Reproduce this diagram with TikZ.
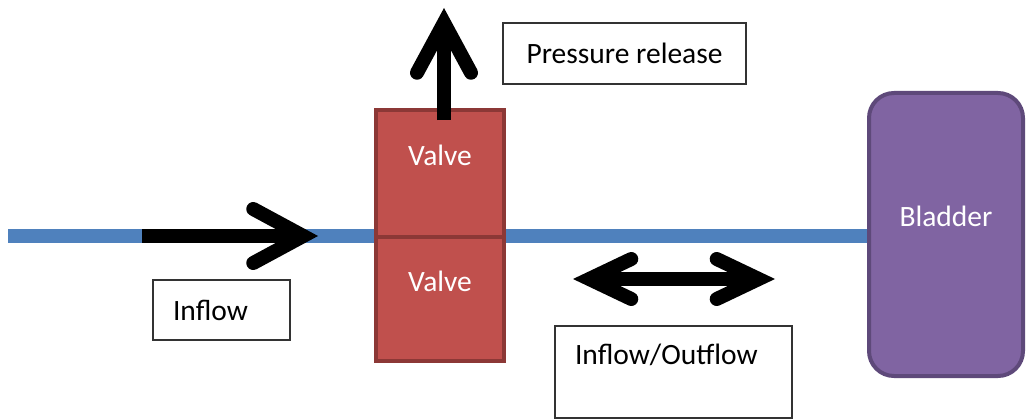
\documentclass[tikz,border=0pt]{standalone}
\usepackage{fontspec}
\setmainfont{Carlito}
\usetikzlibrary{arrows.meta, positioning, calc}
\definecolor{PipeBlue}{RGB}{79, 129, 189}
\definecolor{ValveFill}{RGB}{192, 80, 77}
\definecolor{ValveEdge}{RGB}{140, 56, 54}
\definecolor{BladderFill}{RGB}{128, 100, 162}
\definecolor{BladderEdge}{RGB}{94, 73, 122}

\begin{document}
\begin{tikzpicture}[
        x=1pt, y=-1pt,
        % Styles globaux
        base/.style={align=center, font=\fontsize{29.5}{35}\selectfont},
        % Boites de texte
        textbox/.style={base, draw=black!80, line width=1.5pt, fill=white, align=left, inner xsep=20pt},
        % Vannes
        valve/.style={base, fill=ValveFill, draw=ValveEdge, line width=4pt, text=white, minimum width=128pt},
        % Vessie
        bladder/.style={base, fill=BladderFill, draw=BladderEdge, line width=4pt, text=white, rounded corners=25pt, minimum width=154pt, minimum height=283pt},
        % Tuyau et fleches
        pipe/.style={PipeBlue, line width=14pt},
        flow/.style={line width=14pt, black, -{Straight Barb[length=#1, width=54pt, line cap=round]}},
        flow/.default=50pt,
        bothflow/.style={line width=14pt, black, {Straight Barb[length=42pt, width=40pt, line cap=round]}-{Straight Barb[length=42pt, width=40pt, line cap=round]}}
    ]
    \useasboundingbox (0,0) rectangle (1026,420);

    % --- TUYAU ---
    \coordinate (pipeStart) at (8,236);
    \node[bladder] (bladder) at (946,234.5) {Bladder\\[-10pt]\strut};
    \draw[pipe] (pipeStart) -- (pipeStart -| bladder.west);

    % --- ENTREE ---
    \coordinate (inStart) at (142,236);
    \coordinate (inEnd) at (318,236);
    \draw[flow] (inStart) -- (inEnd);
    \node[textbox, minimum width=137pt, minimum height=60pt, text width=97pt] (inflow) at (221.5,310) {Inflow};

    % --- VANNES ---
    \node[valve, minimum height=127pt] (valveTop) at (440,173.5) {Valve\\[-10pt]\strut};
    \node[valve, minimum height=124pt, below=0pt of valveTop, yshift=4pt] (valveBot) {Valve\\[-10pt]\strut};

    % --- SURPRESSION ---
    \coordinate (upStart) at (444,120);
    \coordinate (upEnd) at (444,8);
    \draw[flow=50pt] (upStart) -- (upEnd);
    \node[textbox, minimum width=243pt, minimum height=61pt, align=center, inner xsep=5pt] (release) at (624.5,53.5) {Pressure release};

    % --- ALLER-RETOUR ---
    \coordinate (bothLeft) at (573,279);
    \coordinate (bothRight) at (775,279);
    \draw[bothflow] (bothLeft) -- (bothRight);
    \node[textbox, minimum width=237pt, minimum height=92pt, text width=197pt] (inout) at (673.5,372) {Inflow/Outflow\\[-10pt]\strut};

\end{tikzpicture}
\end{document}
